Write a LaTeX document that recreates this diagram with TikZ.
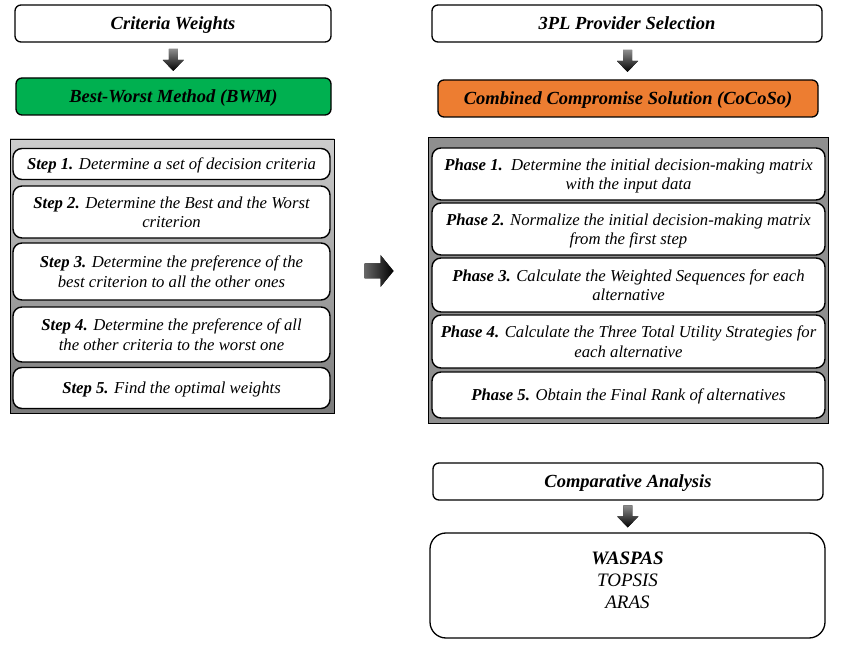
\documentclass[tikz,border=0pt]{standalone}
\usepackage{fontspec}
\setmainfont{Liberation Serif}
\usetikzlibrary{calc}
\tikzset{
  hdr/.style={draw, line width=1.3pt, rounded corners=6pt, inner sep=0pt, text depth=0pt,
    font=\bfseries\itshape\fontsize{18.5}{21}\selectfont},
  stepbox/.style={draw, fill=white, line width=1.4pt, rounded corners=9pt, inner sep=0pt,
    text depth=0pt, align=center, font=\itshape\fontsize{16.7}{19.5}\selectfont},
  panel/.style={draw, line width=0.8pt, inner sep=0pt},
  downarr/.pic={\fill[top color=black!45, bottom color=black]
    (-4.5,-11) -- (4.5,-11) -- (4.5,0) -- (10.5,0) -- (0,11) -- (-10.5,0) -- (-4.5,0) -- cycle;},
  rightarr/.pic={\fill[left color=black!60, right color=black]
    (-14,-7.5) -- (2,-7.5) -- (2,-16) -- (15,0) -- (2,16) -- (2,7.5) -- (-14,7.5) -- cycle;}
}
\begin{document}
\begin{tikzpicture}[x=1pt, y=-1pt]
\useasboundingbox (0,0) rectangle (847,652);
% left column
\node[hdr, minimum width=316, minimum height=37] (cw) at (173,23.5) {Criteria Weights};
\node[hdr, fill={rgb,255:red,0;green,176;blue,80}, minimum width=315, minimum height=37] (bwm) at (173.5,96.5) {Best-Worst Method (BWM)};
\pic at ($(cw.south)!0.5!(bwm.north)$) {downarr};
\node[panel, top color=black!20, bottom color=black!52, minimum width=324, minimum height=274] (lp) at (172,276) {};
\node[stepbox, minimum width=317, minimum height=31] (s1) at (171.5,164) {\textbf{Step 1.} Determine a set of decision criteria};
\node[stepbox, minimum width=317, minimum height=52] (s2) at (171.5,212) {\textbf{Step 2.} Determine the Best and the Worst\\criterion};
\node[stepbox, minimum width=317, minimum height=57] (s3) at (171.5,271.5) {\textbf{Step 3.} Determine the preference of the\\best criterion to all the other ones};
\node[stepbox, minimum width=317, minimum height=55] (s4) at (171.5,334.5) {\textbf{Step 4.} Determine the preference of all\\the other criteria to the worst one};
\node[stepbox, minimum width=317, minimum height=41] (s5) at (171.5,388) {\textbf{Step 5.} Find the optimal weights};
% middle arrow
\pic at (378.5,271) {rightarr};
% right column
\node[hdr, minimum width=390, minimum height=37] (pl) at (627,23.5) {3PL Provider Selection};
\node[hdr, fill={rgb,255:red,237;green,125;blue,49}, minimum width=380, minimum height=37] (cc) at (628,98.5) {Combined Compromise Solution (CoCoSo)};
\pic at ($(pl.south)!0.5!(cc.north)$) {downarr};
\node[panel, fill=black!44, minimum width=400, minimum height=286] (rp) at (628,280) {};
\node[stepbox, minimum width=393, minimum height=52] (p1) at (628.5,174) {\textbf{Phase 1.}\ \ Determine the initial decision-making matrix\\with the input data};
\node[stepbox, minimum width=393, minimum height=52] (p2) at (628.5,229) {\textbf{Phase 2.} Normalize the initial decision-making matrix\\from the first step};
\node[stepbox, minimum width=393, minimum height=54] (p3) at (628.5,285) {\textbf{Phase 3.} Calculate the Weighted Sequences for each\\alternative};
\node[stepbox, minimum width=393, minimum height=53] (p4) at (628.5,341.5) {\textbf{Phase 4.} Calculate the Three Total Utility Strategies for\\each alternative};
\node[stepbox, minimum width=393, minimum height=46] (p5) at (628.5,395) {\textbf{Phase 5.} Obtain the Final Rank of alternatives};
% comparative analysis
\node[hdr, minimum width=390, minimum height=37] (ca) at (628,481.5) {Comparative Analysis};
\node[draw, line width=1.3pt, rounded corners=16pt, minimum width=395, minimum height=105] (big) at (627.5,585.5) {};
\pic at ($(ca.south)!0.5!(big.north)$) {downarr};
\node[align=center, font=\itshape\fontsize{19}{22}\selectfont] (bigtext) at ($(big.center)+(0,-5)$) {\textbf{WASPAS}\\TOPSIS\\ARAS};
\end{tikzpicture}
\end{document}
